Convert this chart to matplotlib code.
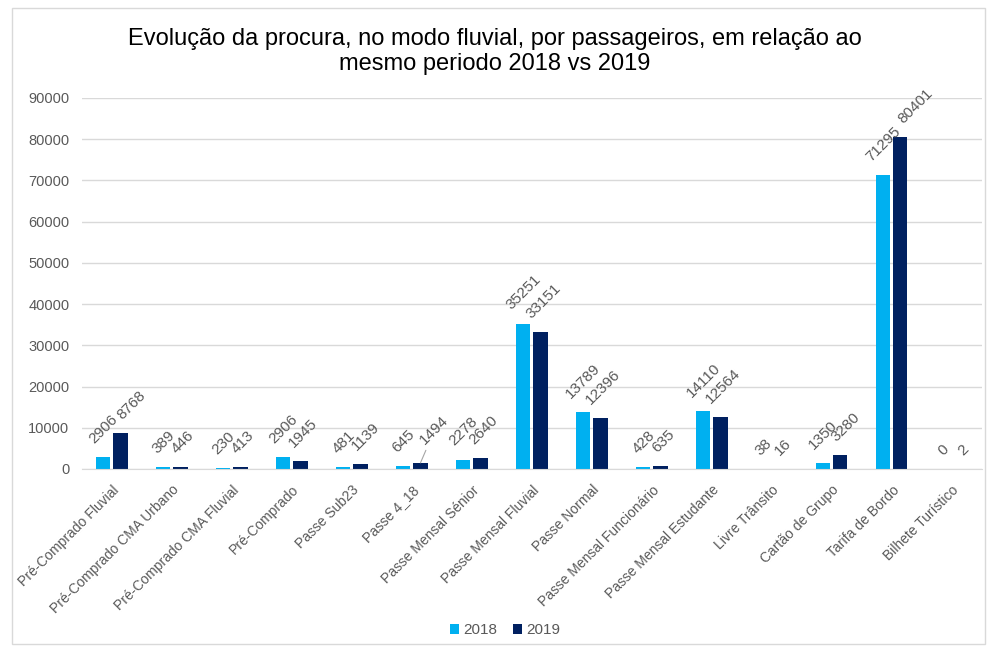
import matplotlib
matplotlib.use('Agg')
import matplotlib.pyplot as plt
from matplotlib.patches import Rectangle
import numpy as np

categories = ['Pré-Comprado Fluvial', 'Pré-Comprado CMA Urbano', 'Pré-Comprado CMA Fluvial',
              'Pré-Comprado', 'Passe Sub23', 'Passe 4_18', 'Passe Mensal Sénior',
              'Passe Mensal Fluvial', 'Passe Normal', 'Passe Mensal Funcionário',
              'Passe Mensal Estudante', 'Livre Trânsito', 'Cartão de Grupo',
              'Tarifa de Bordo', 'Bilhete Turístico']
v2018 = [2906, 389, 230, 2906, 481, 645, 2278, 35251, 13789, 428, 14110, 38, 1350, 71295, 0]
v2019 = [8768, 446, 413, 1945, 1139, 1494, 2640, 33151, 12396, 635, 12564, 16, 3280, 80401, 2]
series = ['2018', '2019']
yticks = list(range(0, 90001, 10000))

cyan = '#00B0F0'
navy = '#002060'
grey = '#595959'

plt.rcParams['font.family'] = ['Liberation Sans', 'DejaVu Sans']

fig = plt.figure(figsize=(9.9, 6.51), dpi=100)
ax = fig.add_axes([0.0828, 0.2796, 0.909, 0.570])

x = np.arange(len(categories))
w = 0.235
gap = 0.025
b1 = ax.bar(x - w/2 - gap, v2018, w, color=cyan, label=series[0], zorder=2)
b2 = ax.bar(x + w/2 + gap, v2019, w, color=navy, label=series[1], zorder=2)

# a few 2019 labels sit nudged to the right in the original
nudge = {0: 8, 4: 4, 12: 4, 13: 11}

for k, (bars, vals) in enumerate(((b1, v2018), (b2, v2019))):
    for i, (rect, v) in enumerate(zip(bars, vals)):
        xy = (rect.get_x() + rect.get_width()/2, rect.get_height())
        if k == 1 and i == 5:
            # label pushed aside in the original, with a leader line
            ax.annotate(str(v), xy, xytext=(10, 11), textcoords='offset points', rotation=45,
                        ha='center', va='bottom', fontsize=11, color=grey,
                        arrowprops=dict(arrowstyle='-', color='#A6A6A6', lw=0.8,
                                        shrinkA=0, shrinkB=0))
            continue
        dx = nudge.get(i, 2) if k == 1 else 0
        ax.annotate(str(v), xy, xytext=(dx, 8), textcoords='offset points', rotation=45,
                    ha='center', va='bottom', fontsize=11, color=grey)

ax.set_xlim(-0.5, len(categories) - 0.5)
ax.set_ylim(0, 90000)
ax.set_yticks(yticks)
ax.set_yticklabels([str(t) for t in yticks], fontsize=10.5, color=grey)
ax.set_xticks(x)
ax.set_xticklabels(categories, rotation=45, ha='right', rotation_mode='anchor',
                   fontsize=10, color=grey)
ax.tick_params(axis='y', length=0, pad=9)
ax.tick_params(axis='x', length=0, pad=10)
ax.grid(axis='y', color='#D9D9D9', linewidth=1, zorder=0)
for s in ('top', 'right', 'left'):
    ax.spines[s].set_visible(False)
ax.spines['bottom'].set_color('#D9D9D9')

fig.suptitle('Evolução da procura, no modo fluvial, por passageiros, em relação ao\nmesmo periodo 2018 vs 2019',
             y=0.957, fontsize=17, color='black', linespacing=1.2)

fig.legend(loc='lower center', bbox_to_anchor=(0.51, 0.0), ncol=2, frameon=False,
           fontsize=11, handlelength=0.6, handleheight=0.6, handletextpad=0.3,
           columnspacing=1.0, labelcolor=grey)

fig.patches.append(Rectangle((0.012, 0.01), 0.983, 0.978, transform=fig.transFigure,
                             fill=False, edgecolor='#D9D9D9', linewidth=1))

fig.savefig('out.png', dpi=100)
